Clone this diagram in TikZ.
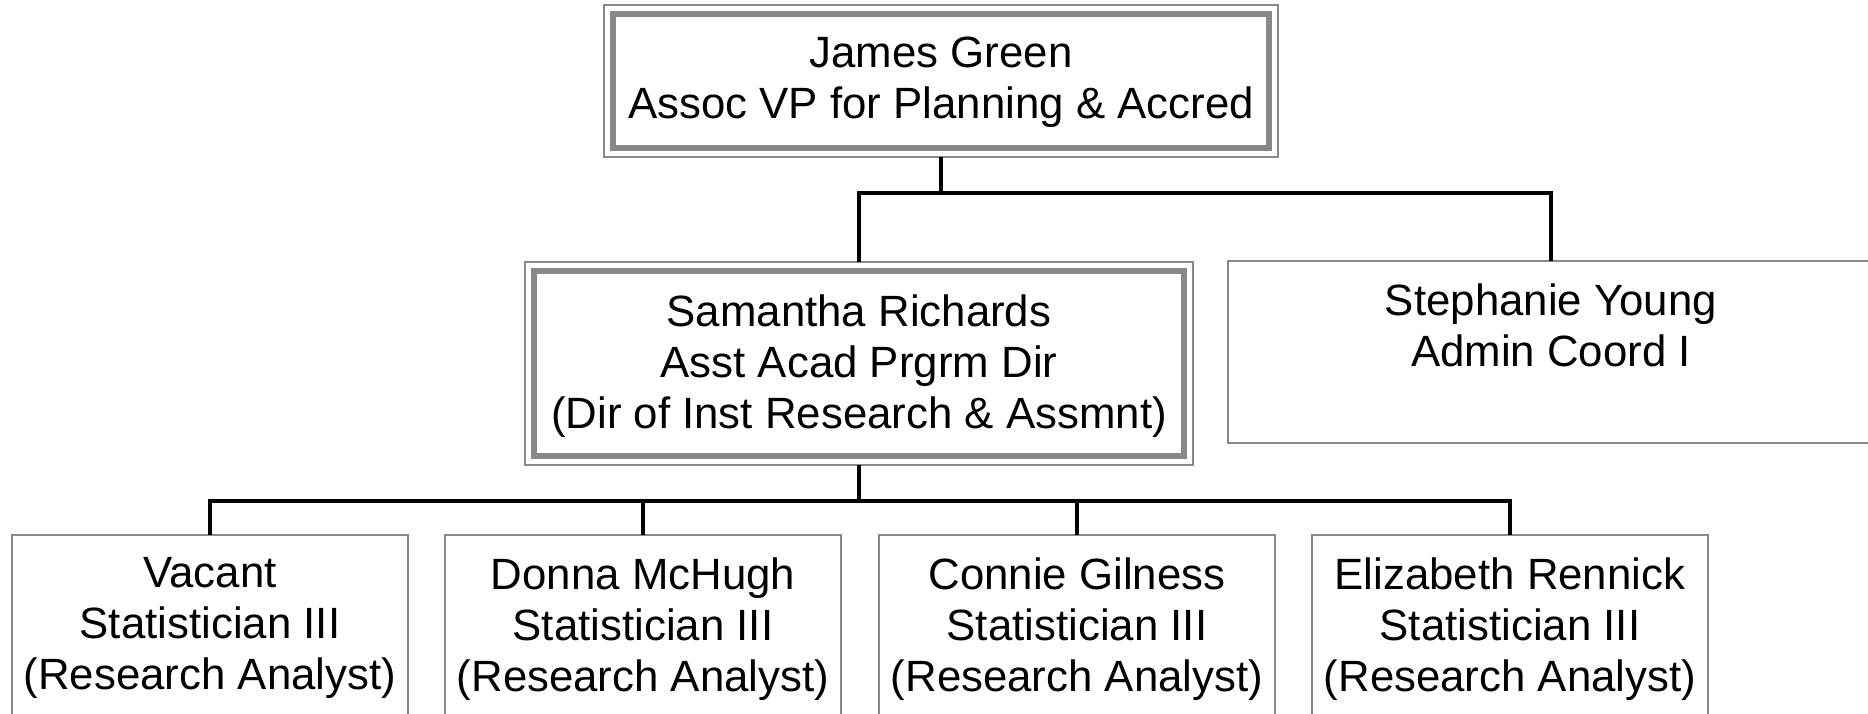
\documentclass[tikz,border=0pt]{standalone}
\usepackage{fontspec}
\setmainfont{Liberation Sans}
\definecolor{bgray}{RGB}{136,136,136}
\begin{document}
\begin{tikzpicture}[x=0.5pt,y=-0.5pt,
  box/.style={draw=bgray, line width=1pt, inner sep=0pt, outer sep=0pt, fill=white},
  innerframe/.style={draw=bgray, line width=3.25pt},
  txt/.style={font=\fontsize{21.9}{25.5}\selectfont, align=center, inner sep=0pt, anchor=north},
  conn/.style={draw=black, line width=2pt}]
\useasboundingbox (0,0) rectangle (1868,713);
\clip (0,0) rectangle (1868,713);
\fill[white] (0,0) rectangle (1868,713);

% connectors
\coordinate (b1) at (0,192.5);
\coordinate (b2) at (0,500.5);

% boxes
\node[box, minimum width=337pt, minimum height=76pt] (jg) at (941,81) {};
\draw[innerframe] ([shift={(4.5pt,-4.5pt)}]jg.north west) rectangle ([shift={(-4.5pt,4.5pt)}]jg.south east);
\node[txt] (jgt) at ([yshift=-16pt]jg.north) {James Green\\Assoc VP for Planning \& Accred};

\node[box, minimum width=334pt, minimum height=101.5pt] (sr) at (859,363.5) {};
\draw[innerframe] ([shift={(4.5pt,-4.5pt)}]sr.north west) rectangle ([shift={(-4.5pt,4.5pt)}]sr.south east);
\node[txt] (srt) at ([yshift=-16pt]sr.north) {Samantha Richards\\Asst Acad Prgrm Dir\\(Dir of Inst Research \& Assmnt)};

\node[box, minimum width=323pt, minimum height=91pt] (sy) at (1551,352) {};
\node[txt] (syt) at ([yshift=-11pt]sy.north) {Stephanie Young\\Admin Coord I};

\node[box, minimum width=198pt, minimum height=100pt] (va) at (210,635) {};
\node[txt] (vat) at ([yshift=-11pt]va.north) {Vacant\\Statistician III\\(Research Analyst)};
\node[box, minimum width=198pt, minimum height=100pt] (dm) at (643,635) {};
\node[txt] (dmt) at ([yshift=-11pt]dm.north) {Donna McHugh\\Statistician III\\(Research Analyst)};
\node[box, minimum width=198pt, minimum height=100pt] (cg) at (1077,635) {};
\node[txt] (cgt) at ([yshift=-11pt]cg.north) {Connie Gilness\\Statistician III\\(Research Analyst)};
\node[box, minimum width=198pt, minimum height=100pt] (er) at (1510,635) {};
\node[txt] (ert) at ([yshift=-11pt]er.north) {Elizabeth Rennick\\Statistician III\\(Research Analyst)};

\draw[conn] (jg.south) -- (jg.south |- b1);
\draw[conn] (sr.north) |- (sy.north |- b1) -- (sy.north);
\draw[conn] (sr.south) -- (sr.south |- b2);
\draw[conn] (va.north) |- (er.north |- b2) -- (er.north);
\draw[conn] (dm.north) -- (dm.north |- b2);
\draw[conn] (cg.north) -- (cg.north |- b2);
\end{tikzpicture}
\end{document}
